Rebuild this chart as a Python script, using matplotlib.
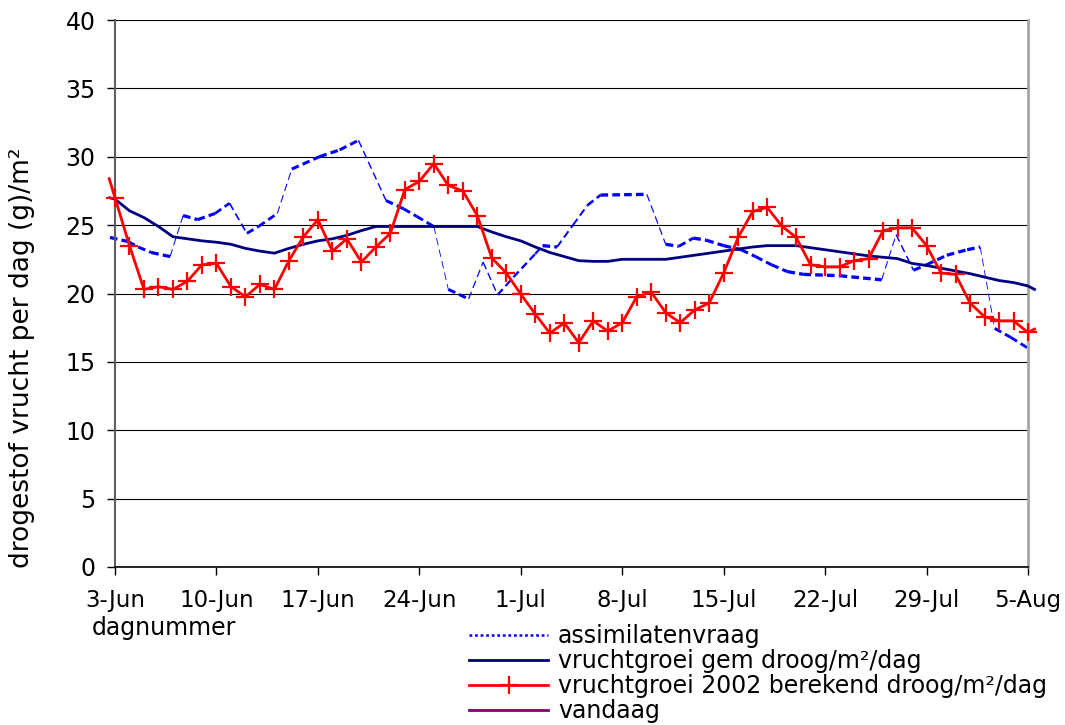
import matplotlib
matplotlib.use('Agg')
import matplotlib.pyplot as plt
import numpy as np
from matplotlib.collections import LineCollection
from matplotlib.lines import Line2D

plt.rcParams['font.family'] = ['DejaVu Sans']
plt.rcParams['lines.scale_dashes'] = False

# x axis: day number counted from 3-Jun
tick_days = [0, 7, 14, 21, 28, 35, 42, 49, 56, 63]
tick_labels = ['3-Jun', '10-Jun', '17-Jun', '24-Jun', '1-Jul', '8-Jul',
               '15-Jul', '22-Jul', '29-Jul', '5-Aug']

# vruchtgroei 2002 berekend (daily, with the short lead-in and run-out)
groei_2002_dag = [-0.4] + list(range(64)) + [63.45]
groei_2002 = [28.4,
              27.0, 23.5, 20.3, 20.5, 20.3, 20.9, 22.1, 22.2, 20.5, 19.76,
              20.67, 20.3, 22.4, 24.15, 25.4, 23.1, 24.0, 22.3, 23.4, 24.4,
              27.6, 28.2, 29.5, 27.9, 27.5, 25.7, 22.6, 21.5, 19.95, 18.5,
              17.1, 17.85, 16.4, 18.0, 17.25, 17.86, 19.76, 20.1, 18.6, 17.86,
              18.8, 19.3, 21.5, 24.1, 26.0, 26.3, 24.95, 24.1, 22.1, 21.95,
              21.95, 22.4, 22.55, 24.6, 24.8, 24.8, 23.5, 21.5, 21.4, 19.3,
              18.3, 18.0, 18.0, 17.15,
              17.4]

# vruchtgroei gemiddeld
groei_gem_dag = [-0.35] + list(range(64)) + [63.45]
groei_gem = [27.0,
             26.9, 26.05, 25.55, 24.9, 24.15, 24.0, 23.85, 23.75, 23.6, 23.3,
             23.1, 22.95, 23.3, 23.6, 23.85, 24.0, 24.25, 24.6, 24.9, 24.9,
             24.9, 24.9, 24.9, 24.9, 24.9, 24.9, 24.5, 24.15, 23.85, 23.4,
             23.0, 22.7, 22.4, 22.35, 22.35, 22.5, 22.5, 22.5, 22.5, 22.65,
             22.8, 22.95, 23.1, 23.25, 23.4, 23.5, 23.5, 23.5, 23.35, 23.2,
             23.05, 22.9, 22.75, 22.65, 22.55, 22.2, 22.05, 21.85, 21.65, 21.45,
             21.2, 20.95, 20.8, 20.55,
             20.3]

# assimilatenvraag
assim_dag = [-0.35, 0.9, 1.6, 2.5, 3.8, 4.7, 5.7, 6.9, 7.9, 9.1, 9.9, 11.2,
             12.2, 14.1, 15.5, 16.8, 18.7, 19.9, 20.8, 22.0, 23.0, 24.4, 25.4,
             26.4, 27.5, 29.0, 29.5, 30.5, 31.6, 32.6, 33.5, 36.7, 38.0, 38.9,
             39.9, 40.8, 42.0, 43.2, 44.2, 45.3, 46.4, 47.5, 50.0, 52.9, 53.9,
             55.1, 56.0, 57.4, 58.8, 59.7, 60.7, 61.8, 63.0]
assim_val = [24.1, 23.8, 23.4, 23.0, 22.7, 25.7, 25.4, 25.85, 26.6, 24.4, 24.9,
             25.85, 29.1, 30.0, 30.5, 31.2, 26.8, 26.2, 25.65, 24.9, 20.3, 19.6,
             22.3, 19.9, 21.2, 22.9, 23.5, 23.4, 25.0, 26.45, 27.2, 27.25, 23.6,
             23.45, 24.05, 23.9, 23.5, 23.2, 22.7, 22.1, 21.6, 21.4, 21.3, 21.0,
             24.3, 21.7, 22.1, 22.8, 23.2, 23.4, 17.45, 16.8, 16.0]

W, H = 1065, 725
fig = plt.figure(figsize=(W / 100, H / 100), dpi=100)
ax_l, ax_r, ax_t, ax_b = 115, 1028, 20, 567
ax = fig.add_axes([ax_l / W, 1 - ax_b / H, (ax_r - ax_l) / W, (ax_b - ax_t) / H])
ax.set_xlim(0, 63)
ax.set_ylim(0, 40)

# dashed blue line, thinner where it runs steeply
px_day = (ax_r - ax_l) / 63
px_unit = (ax_b - ax_t) / 40
pts = np.column_stack([assim_dag, assim_val])
segs = np.stack([pts[:-1], pts[1:]], axis=1)
dx = np.diff(assim_dag) * px_day
dy = np.diff(assim_val) * px_unit
widths = np.clip(2.4 * dx / np.hypot(dx, dy), 0.6, None)
lc = LineCollection(segs, linewidths=widths, colors='#0000ff',
                    linestyles=[(0, (5.5, 3))], capstyle='butt', clip_on=False)
ax.add_collection(lc)

ax.plot(groei_gem_dag, groei_gem, color='#000080', lw=2, clip_on=False, zorder=3)
ax.plot(groei_2002_dag, groei_2002, color='#ff0000', lw=2, marker='+',
        markersize=13, markeredgewidth=1.6, markevery=range(1, 65),
        clip_on=False, zorder=4)

ax.set_yticks(range(0, 41, 5))
ax.set_xticks(tick_days, tick_labels)
ax.yaxis.grid(True, color='black', lw=0.8)
ax.set_axisbelow(True)
ax.tick_params(axis='y', length=6, width=1, pad=8, labelsize=17, direction='out')
ax.tick_params(axis='x', length=6, width=1, pad=10, labelsize=16.5, direction='out')

ax.spines['top'].set_visible(False)
ax.spines['left'].set_color('#606060')
ax.spines['left'].set_linewidth(1.5)
ax.spines['bottom'].set_color('black')
ax.spines['bottom'].set_linewidth(1.2)
ax.spines['right'].set_color('#a6a6a6')
ax.spines['right'].set_linewidth(2)

fig.text(22 / W, 1 - 358 / H, 'drogestof vrucht per dag (g)/m²', rotation=90,
         ha='center', va='center', fontsize=19)
fig.text(92 / W, 1 - 635 / H, 'dagnummer', fontsize=17, va='baseline')

handles = [
    Line2D([], [], color='#0000ff', lw=1.8, linestyle=(0, (2, 2))),
    Line2D([], [], color='#000080', lw=2),
    Line2D([], [], color='#ff0000', lw=2, marker='+', markersize=13,
           markeredgewidth=1.6),
    Line2D([], [], color='#800080', lw=2),
]
labels = ['assimilatenvraag', 'vruchtgroei gem droog/m²/dag',
          'vruchtgroei 2002 berekend droog/m²/dag', 'vandaag']
fig.legend(handles, labels, loc='upper left', bbox_to_anchor=(469 / W, 1 - 624 / H),
           frameon=False, fontsize=17, handlelength=3.35, handletextpad=0.42,
           labelspacing=0.04, borderpad=0, borderaxespad=0)

fig.savefig('out.png', dpi=100)
